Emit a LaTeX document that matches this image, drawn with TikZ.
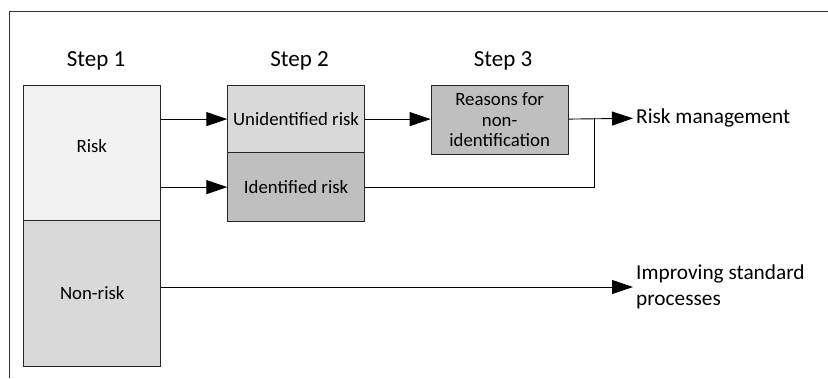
\documentclass[tikz,border=0pt]{standalone}
\usepackage{fontspec}
\setmainfont{Carlito}
\usetikzlibrary{arrows.meta}
\definecolor{paleA}{HTML}{F2F2F2}
\definecolor{paleB}{HTML}{D9D9D9}
\definecolor{paleC}{HTML}{BFBFBF}
\tikzset{
  box/.style={draw=black!85, line width=0.9pt, inner sep=0pt, anchor=north west,
              font=\fontsize{18.8}{20.5}\selectfont, align=center},
  steptitle/.style={font=\fontsize{23}{26}\selectfont, inner sep=0pt},
  outlabel/.style={font=\fontsize{21.3}{26}\selectfont, inner sep=0pt, anchor=west, align=left},
  boxtext/.style={font=\fontsize{18.8}{20.5}\selectfont, inner sep=0pt},
  conn/.style={draw=black, line width=0.9pt},
  arr/.style={conn, -{Triangle[length=21pt,width=14pt]}},
  frameline/.style={draw=black!80, line width=0.9pt}
}
\begin{document}
\begin{tikzpicture}[x=1pt,y=-1pt]
\useasboundingbox (0,0) rectangle (828,378);
% outer frame (top and left edges)
\draw[frameline] (9.5,378) -- (9.5,11) -- (828,11);

% step titles
\node[steptitle] (s1) at (96,61) {Step 1};
\node[steptitle] (s2) at (299.5,61) {Step 2};
\node[steptitle] (s3) at (503,61) {Step 3};

% step 1 column
\node[box, fill=paleA, minimum width=137pt, minimum height=135.5pt] (risk) at (23.3,85) {};
\node[boxtext] (risktxt) at (91.8,146) {Risk};
\node[box, fill=paleB, minimum width=137pt, minimum height=145.5pt] (nonrisk) at (23.3,220.3) {Non-risk};

% step 2 column
\node[box, fill=paleB, minimum width=136.7pt, minimum height=67.3pt] (unid) at (227.3,85) {Unidentified risk};
\node[box, fill=paleC, minimum width=136.7pt, minimum height=68.7pt] (ident) at (227.3,152.3) {Identified risk};

% step 3
\node[box, fill=paleC, minimum width=137pt, minimum height=69pt] (reasons) at (430.7,85) {Reasons for\\non-\\identification};

% outcomes
\node[outlabel] (rm) at (636,118.3) {Risk management};
\node[outlabel] (isp) at (636,287) {Improving standard\\processes};

\coordinate (join) at (594.3,118.3);

% connectors
\draw[arr] (risk.east |- unid.west) -- (unid.west);
\draw[arr] (risk.east |- ident.west) -- (ident.west);
\draw[arr] (unid.east) -- (unid.east -| reasons.west);
\draw[arr] (reasons.east |- unid.east) -- ([xshift=-3pt]rm.west);
\draw[conn] (ident.east) -| (join);
\draw[arr] (nonrisk.east |- isp.west) -- ([xshift=-3pt]isp.west);
\end{tikzpicture}
\end{document}
